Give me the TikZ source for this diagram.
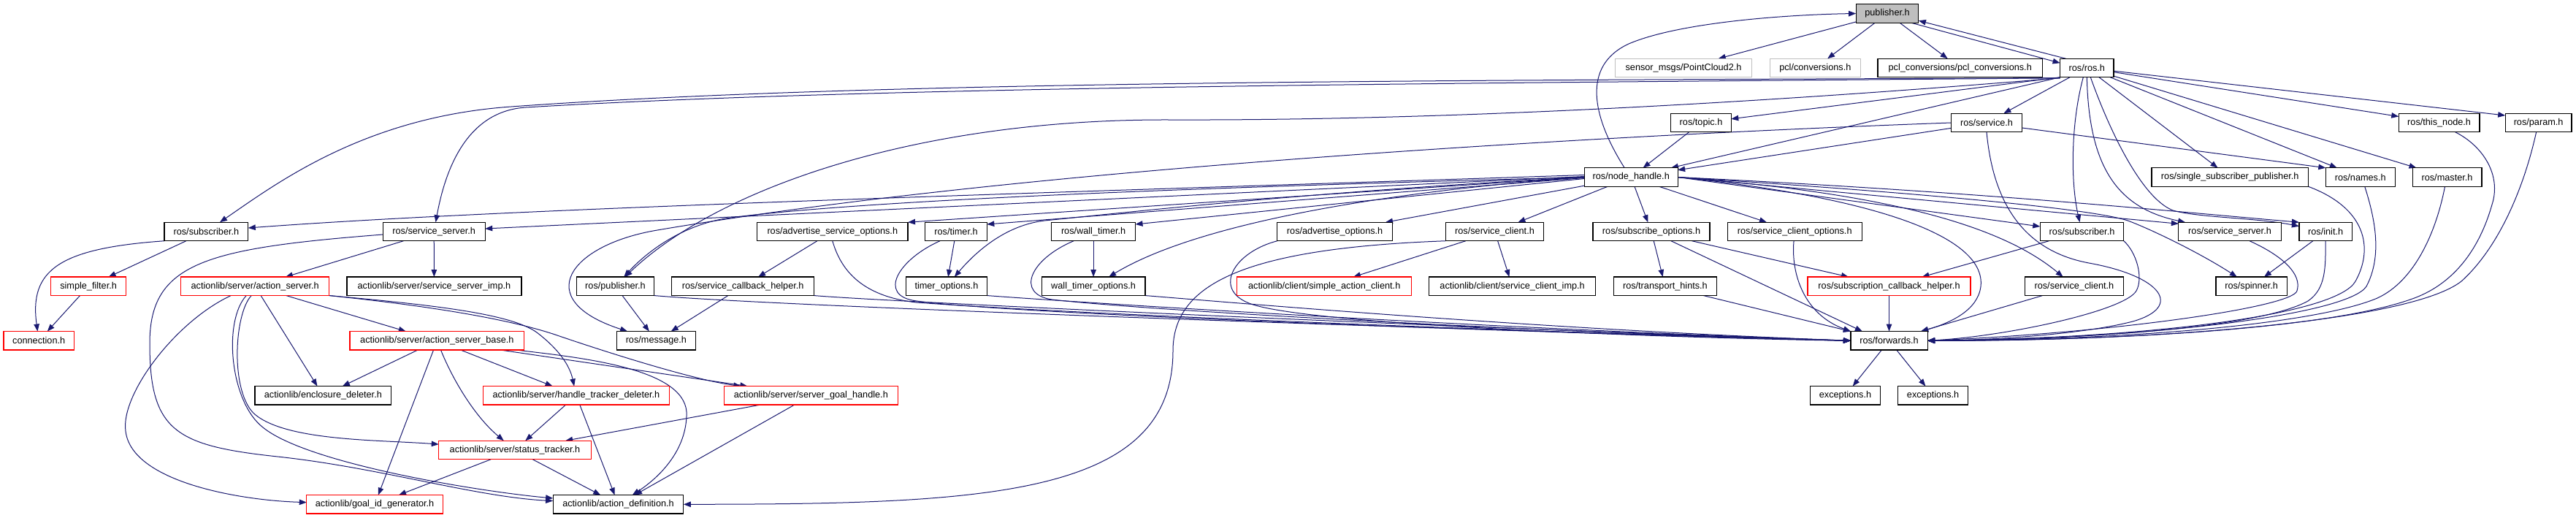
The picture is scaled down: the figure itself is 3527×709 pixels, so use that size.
\documentclass[tikz,border=0pt]{standalone}
\usepackage{fontspec}
\setmainfont{Liberation Sans}
\usetikzlibrary{arrows.meta,backgrounds}
\definecolor{edgeblue}{HTML}{191970}
\definecolor{greyfill}{HTML}{BFBFBF}
\definecolor{greyline}{HTML}{BFBFBF}
\definecolor{redline}{HTML}{FF0000}
\newcommand{\nodefs}{\fontsize{12.7pt}{15pt}\selectfont}
\tikzset{
  box/.style={draw=black, line width=1.2pt, fill=white, minimum height=25.5pt,
              inner xsep=3pt, inner ysep=0pt, font=\nodefs, text=black, outer sep=0pt},
  gbox/.style={box, draw=greyline},
  rbox/.style={box, draw=redline},
  inc/.style={draw=edgeblue, line width=1pt, -{Triangle[length=10pt,width=7.5pt]}},
}
\begin{document}
\begin{tikzpicture}[x=1pt,y=-1pt]
\useasboundingbox (0,0) rectangle (3527,709);
% ---------- nodes ----------
\node[box,fill=greyfill,minimum width=85.7pt] (pub) at (2584,18.5) {publisher.h};
\node[gbox,minimum width=186.6pt] (pc2) at (2305,93) {sensor\_msgs/PointCloud2.h};
\node[gbox,minimum width=124pt] (pclc) at (2485.3,93) {pcl/conversions.h};
\node[box,minimum width=225.4pt] (pclcc) at (2683.7,93) {pcl\_conversions/pcl\_conversions.h};
\node[box,minimum width=73.5pt] (rosh) at (2857.3,93) {ros/ros.h};
\node[box,minimum width=82.5pt] (topic) at (2329,168) {ros/topic.h};
\node[box,minimum width=97.2pt] (service) at (2720,168) {ros/service.h};
\node[box,minimum width=110.7pt] (thisnode) at (3339.6,168) {ros/this\_node.h};
\node[box,minimum width=90.8pt] (param) at (3475.6,168) {ros/param.h};
\node[box,minimum width=127.8pt] (nh) at (2233.2,242.5) {ros/node\_handle.h};
\node[box,minimum width=214.3pt] (ssp) at (3053.2,242.5) {ros/single\_subscriber\_publisher.h};
\node[box,minimum width=94.8pt] (names) at (3231.7,242.5) {ros/names.h};
\node[box,minimum width=94.8pt] (master) at (3350.5,242.5) {ros/master.h};
\node[box,minimum width=114.8pt] (subL) at (282.4,317) {ros/subscriber.h};
\node[box,minimum width=140pt] (ssL) at (594.2,317) {ros/service\_server.h};
\node[box,minimum width=206.5pt] (aso) at (1139.8,317) {ros/advertise\_service\_options.h};
\node[box,minimum width=84.6pt] (timer) at (1309,317) {ros/timer.h};
\node[box,minimum width=114.8pt] (wtimer) at (1497.1,317) {ros/wall\_timer.h};
\node[box,minimum width=157.7pt] (ao) at (1827.6,317) {ros/advertise\_options.h};
\node[box,minimum width=134.7pt] (scL) at (2046.5,317) {ros/service\_client.h};
\node[box,minimum width=160pt] (so) at (2261,317) {ros/subscribe\_options.h};
\node[box,minimum width=184pt] (sco) at (2457.2,317) {ros/service\_client\_options.h};
\node[box,minimum width=114.5pt] (subR) at (2850.5,317) {ros/subscriber.h};
\node[box,minimum width=140.3pt] (ssR) at (3053,317) {ros/service\_server.h};
\node[box,minimum width=72.4pt] (init) at (3184.1,317) {ros/init.h};
\node[rbox,minimum width=103pt] (sfilter) at (121.1,391.8) {simple\_filter.h};
\node[rbox,minimum width=203.2pt] (as) at (349.2,391.8) {actionlib/server/action\_server.h};
\node[box,minimum width=239pt] (ssimp) at (594.4,391.8) {actionlib/server/service\_server\_imp.h};
\node[box,minimum width=106.4pt] (pubR) at (842.5,391.8) {ros/publisher.h};
\node[box,minimum width=194.8pt] (sch) at (1017.2,391.8) {ros/service\_callback\_helper.h};
\node[box,minimum width=111pt] (topt) at (1295.9,391.8) {timer\_options.h};
\node[box,minimum width=141.6pt] (wtopt) at (1497.1,391.8) {wall\_timer\_options.h};
\node[rbox,minimum width=238.7pt] (sac) at (1813.2,391.8) {actionlib/client/simple\_action\_client.h};
\node[box,minimum width=228pt] (scimp) at (2070.6,391.8) {actionlib/client/service\_client\_imp.h};
\node[box,minimum width=141.5pt] (th) at (2279.9,391.8) {ros/transport\_hints.h};
\node[rbox,minimum width=223pt] (subcb) at (2586.5,391.8) {ros/subscription\_callback\_helper.h};
\node[box,minimum width=135pt] (scR) at (2839.9,391.8) {ros/service\_client.h};
\node[box,minimum width=97.2pt] (spinner) at (3082.6,391.8) {ros/spinner.h};
\node[rbox,minimum width=96.4pt] (conn) at (53.2,466.3) {connection.h};
\node[rbox,minimum width=238.7pt] (asb) at (598.4,466.3) {actionlib/server/action\_server\_base.h};
\node[box,minimum width=107.9pt] (msg) at (898.4,466.3) {ros/message.h};
\node[box,minimum width=105.2pt] (fwd) at (2586.5,466.3) {ros/forwards.h};
\node[box,minimum width=186.7pt] (encl) at (442.4,541.3) {actionlib/enclosure\_deleter.h};
\node[rbox,minimum width=255.6pt] (htd) at (788.9,541.3) {actionlib/server/handle\_tracker\_deleter.h};
\node[rbox,minimum width=237.9pt] (sgh) at (1110.3,541.3) {actionlib/server/server\_goal\_handle.h};
\node[box,minimum width=96pt] (exc1) at (2526.5,541.3) {exceptions.h};
\node[box,minimum width=96pt] (exc2) at (2646.6,541.3) {exceptions.h};
\node[rbox,minimum width=208.5pt] (st) at (705,616) {actionlib/server/status\_tracker.h};
\node[rbox,minimum width=186.6pt] (gid) at (513.1,690.3) {actionlib/goal\_id\_generator.h};
\node[box,minimum width=178.7pt] (ad) at (846.5,690.3) {actionlib/action\_definition.h};
% ---------- edges ----------
\begin{scope}[on background layer]
\fill[white] (0,0) rectangle (3527,709);
% publisher.h
\draw[inc] (pub) -- (pc2);
\draw[inc] (pub) -- (pclc);
\draw[inc] (pub) -- (pclcc);
\draw[inc] ([xshift=-10pt]pub.south east) -- ([yshift=-6pt]rosh.north west);
\draw[inc] ([xshift=8pt]rosh.north west) -- ([yshift=3pt]pub.south east);
% ros/ros.h
\draw[inc] (rosh.south west) -- (topic);
\draw[inc] (rosh) -- (service);
\draw[inc] (rosh.south west) -- (nh);
\draw[inc] (rosh) -- (thisnode);
\draw[inc] (rosh) -- ([yshift=10pt]param.west);
\draw[inc] (rosh) -- (ssp);
\draw[inc] (rosh) -- (names);
\draw[inc] (rosh) -- (master);
\draw[inc] ([yshift=-1pt]rosh.south west) .. controls (2000,110) and (1200,110) .. (700,146) .. controls (500,160) and (380,250) .. (subL);
\draw[inc] ([yshift=-1pt]rosh.south west) .. controls (2000,114) and (1200,118) .. (720,147) .. controls (640,152) and (610,230) .. (ssL);
\draw[inc] ([yshift=-1pt]rosh.south west) .. controls (2300,150) and (1900,165) .. (1600,164) .. controls (1250,163) and (980,260) .. (pubR);
\draw[inc] ([xshift=-5pt]rosh.south) .. controls (2835,170) and (2835,250) .. (subR);
\draw[inc] (rosh.south) .. controls (2860,230) and (2900,285) .. (ssR);
\draw[inc] ([xshift=5pt]rosh.south) .. controls (2885,170) and (2930,270) .. (2975,288) .. controls (3010,298) and (3090,298) .. (init);
% ros/topic.h, ros/service.h
\draw[inc] (topic) -- (nh);
\draw[inc] (service) -- (nh);
\draw[inc] ([yshift=-7pt]service.east) -- (names.north west);
\draw[inc] (service.west) .. controls (2200,185) and (1400,230) .. (900,315) .. controls (780,335) and (725,410) .. (msg);
\draw[inc] (service.south) .. controls (2730,290) and (2780,345) .. (2860,360) .. controls (2960,378) and (2990,420) .. (2920,440) .. controls (2850,458) and (2720,466) .. (fwd.east);
% ros/node_handle.h
\draw[inc] ([xshift=-9pt]nh.north) .. controls (2180,160) and (2165,90) .. (2230,60) .. controls (2300,30) and (2450,20) .. (pub.west);
\draw[inc] ([yshift=3pt]nh.west) .. controls (1400,265) and (700,285) .. ([yshift=5pt]subL.east);
\draw[inc] ([yshift=1pt]nh.west) -- ([yshift=4pt]ssL.east);
\draw[inc] (nh.west) -- (aso.north east);
\draw[inc] ([yshift=-1pt]nh.west) -- ([yshift=10pt]timer.east);
\draw[inc] ([yshift=-2pt]nh.west) -- ([yshift=10pt]wtimer.east);
\draw[inc] (nh) -- (ao);
\draw[inc] (nh) -- (scL);
\draw[inc] (nh) -- (so);
\draw[inc] (nh) -- (sco);
\draw[inc] (nh.east) -- ([yshift=7pt]subR.west);
\draw[inc] (nh.east) -- ([yshift=-2pt]ssR.north west);
\draw[inc] (nh.east) .. controls (2700,262) and (2950,287) .. (init.north west);
\draw[inc] (nh.east) .. controls (2600,262) and (2870,285) .. (2916,303) .. controls (2945,314) and (3010,345) .. (spinner);
\draw[inc] (nh.east) .. controls (2550,262) and (2730,300) .. (scR);
\draw[inc] (nh.east) .. controls (2550,268) and (2720,320) .. (2712,392) .. controls (2708,425) and (2670,442) .. (fwd);
\draw[inc] (nh.west) .. controls (1700,255) and (1200,272) .. (1000,298) .. controls (940,306) and (890,340) .. (pubR);
\draw[inc] (nh.west) .. controls (1800,262) and (1550,290) .. (1430,302) .. controls (1380,308) and (1340,340) .. (topt);
\draw[inc] (nh.west) .. controls (1900,262) and (1640,305) .. (wtopt);
% right side into ros/forwards.h
\draw[inc] (subR) -- (subcb);
\draw[inc] (subR.south east) .. controls (2925,345) and (2935,380) .. (2925,398) .. controls (2910,425) and (2750,460) .. (fwd.east);
\draw[inc] ([xshift=27pt]ssR.south) .. controls (3125,350) and (3152,375) .. (3145,398) .. controls (3140,420) and (2900,455) .. (fwd.east);
\draw[inc] (init.south) .. controls (3184,365) and (3185,395) .. (3160,412) .. controls (3100,445) and (2900,463) .. (fwd.east);
\draw[inc] (init) -- (spinner);
\draw[inc] (ssp.south east) .. controls (3240,285) and (3250,340) .. (3225,385) .. controls (3200,430) and (2950,463) .. (fwd.east);
\draw[inc] ([xshift=6pt]names.south) .. controls (3252,300) and (3262,350) .. (3240,392) .. controls (3215,430) and (2950,464) .. (fwd.east);
\draw[inc] ([xshift=-3pt]master.south) .. controls (3335,320) and (3305,385) .. (3255,408) .. controls (3180,440) and (2950,465) .. (fwd.east);
\draw[inc] ([xshift=22pt]thisnode.south) .. controls (3400,200) and (3425,240) .. (3412,280) .. controls (3395,340) and (3360,390) .. (3300,410) .. controls (3200,445) and (2950,466) .. (fwd.east);
\draw[inc] ([xshift=-3pt]param.south) .. controls (3455,260) and (3420,340) .. (3370,385) .. controls (3300,440) and (2950,467) .. (fwd.east);
\draw[inc] (scR) -- (fwd);
\draw[inc] (subcb) -- (fwd);
\draw[inc] (so) -- (th);
\draw[inc] (so) -- (subcb);
\draw[inc] (so) -- ([xshift=16pt]fwd.north west);
\draw[inc] (sco) .. controls (2452,375) and (2470,430) .. (fwd.north west);
\draw[inc] (th) -- (fwd.north west);
\draw[inc] (fwd) -- (exc1);
\draw[inc] (fwd) -- (exc2);
% service_client / advertise_options
\draw[inc] (scL) -- (sac);
\draw[inc] (scL) -- (scimp);
\draw[inc] (scL.south west) .. controls (1700,340) and (1606,390) .. (1606,480) .. controls (1606,680) and (1350,690) .. (ad.east);
\draw[inc] (ao.south west) .. controls (1690,345) and (1660,395) .. (1710,415) .. controls (1785,445) and (2300,463) .. (fwd.west);
% left part into ros/forwards.h
\draw[inc] (aso) -- (sch);
\draw[inc] (aso.south) .. controls (1150,365) and (1175,405) .. (1255,414) .. controls (1500,432) and (2200,458) .. (fwd.west);
\draw[inc] (timer) -- (topt);
\draw[inc] ([xshift=-22pt]timer.south) .. controls (1230,355) and (1200,405) .. (1255,412) .. controls (1400,432) and (2200,458) .. (fwd.west);
\draw[inc] (wtimer) -- (wtopt);
\draw[inc] ([xshift=-27pt]wtimer.south) .. controls (1410,355) and (1390,402) .. (1440,410) .. controls (1600,428) and (2200,458) .. (fwd.west);
\draw[inc] (topt.south east) .. controls (1450,412) and (2000,448) .. (fwd.west);
\draw[inc] (wtopt.south east) .. controls (1700,415) and (2100,450) .. (fwd.west);
\draw[inc] (pubR.south east) .. controls (1050,418) and (1800,445) .. (fwd.west);
\draw[inc] (sch.south east) .. controls (1200,412) and (1900,445) .. (fwd.west);
\draw[inc] (pubR) -- (msg);
\draw[inc] (sch) -- (msg);
% left group
\draw[inc] (subL) -- (sfilter);
\draw[inc] (subL.south west) .. controls (80,340) and (40,370) .. (conn);
\draw[inc] (sfilter) -- (conn);
\draw[inc] (ssL) -- (as);
\draw[inc] (ssL) -- (ssimp);
\draw[inc] ([yshift=-4pt]ssL.west) .. controls (280,340) and (205,360) .. (205,470) .. controls (205,590) and (240,610) .. (380,625) .. controls (520,640) and (650,680) .. (ad);
\draw[inc] (as) -- (encl);
\draw[inc] (as) -- (asb);
\draw[inc] ([xshift=-33pt]as.south) .. controls (240,440) and (165,540) .. (172,590) .. controls (180,660) and (330,685) .. (gid);
\draw[inc] ([xshift=-5pt]as.south) .. controls (320,430) and (315,540) .. (350,568) .. controls (395,604) and (520,602) .. (st);
\draw[inc] ([xshift=-12pt]as.south) .. controls (305,440) and (315,550) .. (360,585) .. controls (420,634) and (650,672) .. (ad);
\draw[inc] (as.south east) .. controls (600,418) and (700,430) .. (735,455) .. controls (765,478) and (780,500) .. (htd);
\draw[inc] (as.south east) .. controls (600,420) and (700,438) .. (760,458) .. controls (830,482) and (950,520) .. (sgh);
\draw[inc] (asb) -- (encl);
\draw[inc] (asb) -- (gid);
\draw[inc] (asb) .. controls (620,520) and (650,570) .. (st);
\draw[inc] (asb) -- (htd);
\draw[inc] (asb) -- (sgh);
\draw[inc] (asb) .. controls (800,490) and (945,505) .. (940,570) .. controls (938,620) and (900,655) .. (ad);
\draw[inc] (htd) -- (st);
\draw[inc] (htd) -- (ad);
\draw[inc] (sgh) -- (st);
\draw[inc] (sgh) -- (ad);
\draw[inc] (st) -- (ad);
\draw[inc] (st) -- (gid);
\end{scope}
\end{tikzpicture}
\end{document}
